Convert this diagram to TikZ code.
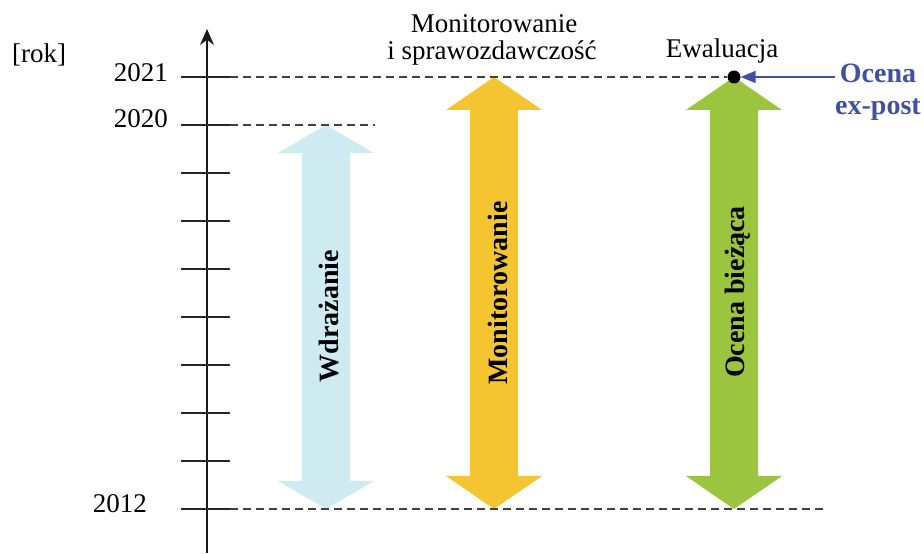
\documentclass[tikz,border=0pt]{standalone}
\usepackage{fontspec}
\setmainfont{Liberation Serif}
\usetikzlibrary{arrows.meta}
\tikzset{
  txt/.style={inner sep=0pt, font=\fontsize{27}{30}\selectfont},
  boldtxt/.style={inner sep=0pt, font=\fontsize{28}{30}\selectfont\bfseries},
  axisline/.style={line width=1.8pt, draw=black!90},
  tickline/.style={line width=1.8pt, draw=black!85},
  guide/.style={line width=1.4pt, draw=black!75, dash pattern=on 8pt off 5pt},
  pointer/.style={line width=2pt, draw=pointblue, -{Triangle[length=15pt,width=12pt]}},
}
\definecolor{pointblue}{HTML}{3F51A5}
\begin{document}
\begin{tikzpicture}[x=1pt, y=1pt]
\useasboundingbox (0,0) rectangle (924,554);
% double arrows
\definecolor{col}{HTML}{CDEBF0}
\fill[col] (326,429) -- (374,401) -- (350,401) -- (350,73) -- (374,73) -- (326,45) -- (278,73) -- (302,73) -- (302,401) -- (278,401) -- cycle (338,238) node[boldtxt, text=black, rotate=90, anchor=base] (impl) {Wdrażanie};
\definecolor{col}{HTML}{F4C530}
\fill[col] (494,477) -- (542,444) -- (518,444) -- (518,78) -- (542,78) -- (494,45) -- (446,78) -- (470,78) -- (470,444) -- (446,444) -- cycle (507,261) node[boldtxt, text=black, rotate=90, anchor=base] (monit) {Monitorowanie};
\definecolor{col}{HTML}{9BC53E}
\fill[col] (734,477) -- (782,444) -- (758,444) -- (758,78) -- (782,78) -- (734,45) -- (686,78) -- (710,78) -- (710,444) -- (686,444) -- cycle (744,262) node[boldtxt, text=black, rotate=90, anchor=base] (ongoing) {Ocena bieżąca};
% time axis
\draw[axisline, -{Stealth[length=16pt,width=14pt]}] (207,1) -- (207,525);
\foreach \i in {0,...,9}
  {\draw[tickline] (181,{477-48*\i}) -- (230,{477-48*\i}) coordinate (t\i);}
\node[txt, anchor=base east] (y2021) at (168,472) {2021};
\node[txt, anchor=base east] (y2020) at (168,426) {2020};
\node[txt, anchor=base east] (y2012) at (147,41) {2012};
\node[txt, anchor=base west] (unit) at (12,491) {[rok]};
% guides
\node[circle, fill=black, inner sep=0pt, minimum size=13pt] (evaldot) at (734,477) {};
\coordinate (g2020) at (375,429);
\coordinate (g2012) at (826,45);
\draw[guide] (t0) -- (evaldot.west);
\draw[guide] (t1) -- (g2020);
\draw[guide] (t9) -- (g2012);
% labels on top
\node[txt, anchor=base] (montitle) at (494,521) {Monitorowanie};
\node[txt, anchor=base] (montitleb) at (492,494) {i sprawozdawczość};
\node[txt, anchor=base] (evaltitle) at (722,496) {Ewaluacja};
\node[boldtxt, text=pointblue, anchor=base, inner xsep=5pt] (ocena) at (878,471) {Ocena};
\node[boldtxt, text=pointblue, anchor=base] (expost) at (878,439) {ex-post};
\draw[pointer] (ocena.west |- evaldot) -- (evaldot.east);
\end{tikzpicture}
\end{document}
